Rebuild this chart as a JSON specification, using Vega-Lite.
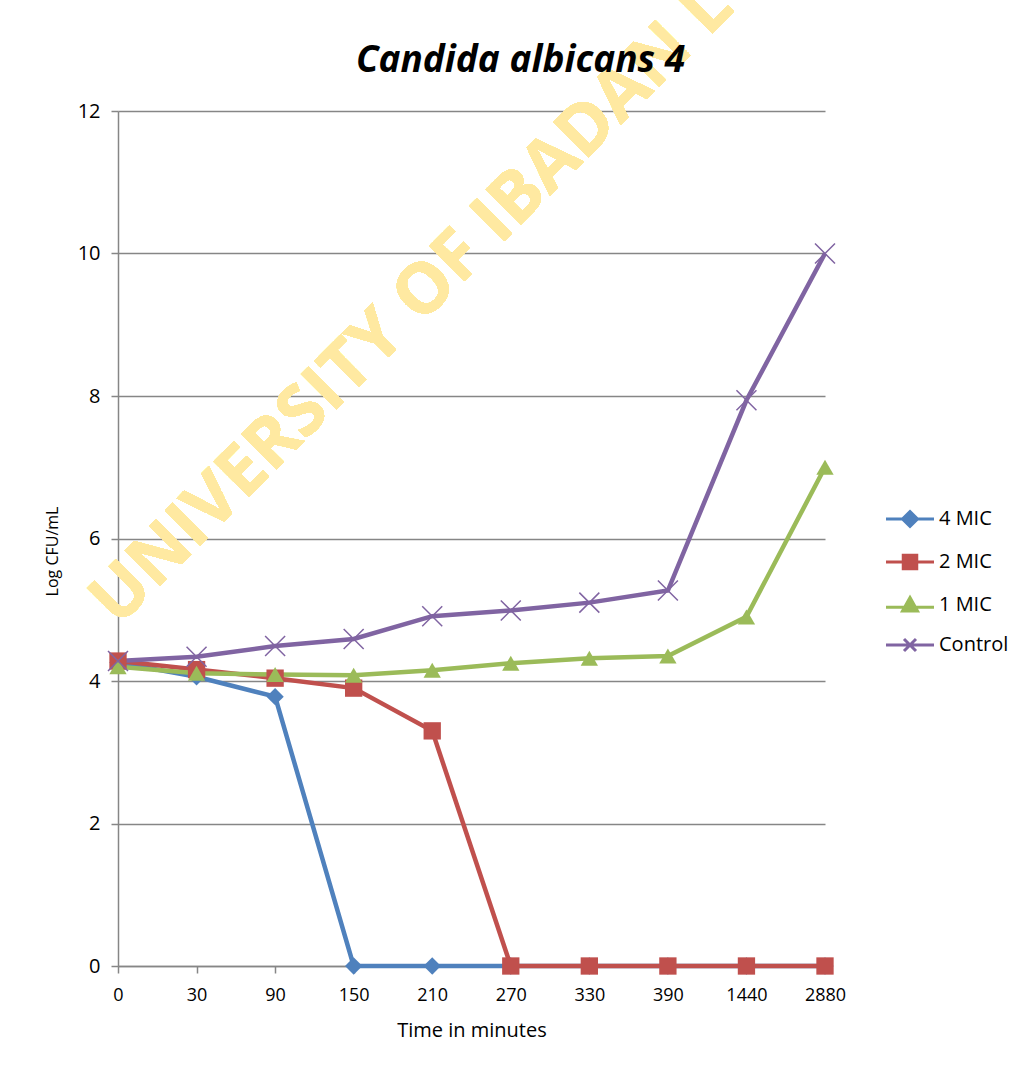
{
  "$schema": "https://vega.github.io/schema/vega-lite/v6.json",
  "autosize": "none",
  "width": 707,
  "height": 855,
  "padding": {"left": 118, "top": 111, "right": 189, "bottom": 100},
  "background": "white",
  "title": {
    "text": "Candida albicans 4",
    "font": "Open Sans",
    "fontSize": 37,
    "fontWeight": "bold",
    "fontStyle": "italic",
    "color": "#000000",
    "offset": 28,
    "dx": 49,
    "dy": 138
  },
  "config": {
    "view": {"stroke": null},
    "font": "Open Sans"
  },
  "data": {
    "values": [
      {"time": "0", "series": "4 MIC", "value": 4.26},
      {"time": "30", "series": "4 MIC", "value": 4.06},
      {"time": "90", "series": "4 MIC", "value": 3.78},
      {"time": "150", "series": "4 MIC", "value": 0},
      {"time": "210", "series": "4 MIC", "value": 0},
      {"time": "270", "series": "4 MIC", "value": 0},
      {"time": "330", "series": "4 MIC", "value": 0},
      {"time": "390", "series": "4 MIC", "value": 0},
      {"time": "1440", "series": "4 MIC", "value": 0},
      {"time": "2880", "series": "4 MIC", "value": 0},
      {"time": "0", "series": "2 MIC", "value": 4.28},
      {"time": "30", "series": "2 MIC", "value": 4.16},
      {"time": "90", "series": "2 MIC", "value": 4.04},
      {"time": "150", "series": "2 MIC", "value": 3.9},
      {"time": "210", "series": "2 MIC", "value": 3.3},
      {"time": "270", "series": "2 MIC", "value": 0},
      {"time": "330", "series": "2 MIC", "value": 0},
      {"time": "390", "series": "2 MIC", "value": 0},
      {"time": "1440", "series": "2 MIC", "value": 0},
      {"time": "2880", "series": "2 MIC", "value": 0},
      {"time": "0", "series": "1 MIC", "value": 4.2},
      {"time": "30", "series": "1 MIC", "value": 4.11},
      {"time": "90", "series": "1 MIC", "value": 4.09},
      {"time": "150", "series": "1 MIC", "value": 4.08},
      {"time": "210", "series": "1 MIC", "value": 4.15},
      {"time": "270", "series": "1 MIC", "value": 4.25},
      {"time": "330", "series": "1 MIC", "value": 4.32},
      {"time": "390", "series": "1 MIC", "value": 4.35},
      {"time": "1440", "series": "1 MIC", "value": 4.9},
      {"time": "2880", "series": "1 MIC", "value": 7.0},
      {"time": "0", "series": "Control", "value": 4.28},
      {"time": "30", "series": "Control", "value": 4.34},
      {"time": "90", "series": "Control", "value": 4.49},
      {"time": "150", "series": "Control", "value": 4.59},
      {"time": "210", "series": "Control", "value": 4.91},
      {"time": "270", "series": "Control", "value": 4.99},
      {"time": "330", "series": "Control", "value": 5.1},
      {"time": "390", "series": "Control", "value": 5.27},
      {"time": "1440", "series": "Control", "value": 7.94},
      {"time": "2880", "series": "Control", "value": 10.0}
    ]
  },
  "encoding": {
    "x": {
      "field": "time",
      "type": "ordinal",
      "sort": null,
      "scale": {"type": "point", "padding": 0},
      "axis": {
        "title": "Time in minutes",
        "labelAngle": 0,
        "labelFontSize": 18,
        "labelColor": "#000000",
        "labelPadding": 13,
        "titleFontSize": 20,
        "titleFontWeight": "normal",
        "titleColor": "#000000",
        "titlePadding": 16,
        "domainColor": "#868686",
        "domainWidth": 1.5,
        "tickColor": "#868686",
        "tickWidth": 1.5,
        "tickSize": 7,
        "grid": false
      }
    },
    "y": {
      "field": "value",
      "type": "quantitative",
      "scale": {"domain": [0, 12], "nice": false},
      "axis": {
        "title": "Log CFU/mL",
        "values": [0, 2, 4, 6, 8, 10, 12],
        "labelFontSize": 20,
        "labelColor": "#000000",
        "labelPadding": 11,
        "titleFontSize": 16,
        "titleFontWeight": "normal",
        "titleColor": "#000000",
        "titlePadding": 17,
        "titleY": 440,
        "domainColor": "#868686",
        "domainWidth": 1.5,
        "tickColor": "#868686",
        "tickWidth": 1.5,
        "tickSize": 7,
        "grid": true,
        "gridColor": "#868686",
        "gridWidth": 1.5
      }
    }
  },
  "layer": [
    {
      "mark": {
        "type": "text",
        "text": "UNIVERSITY OF IBADAN L",
        "font": "Open Sans",
        "fontSize": 70,
        "fontWeight": "bold",
        "angle": -45,
        "align": "left",
        "baseline": "alphabetic",
        "fill": "#FFE9A1",
        "opacity": 1
      },
      "encoding": {
        "x": {"datum": "0"},
        "y": {"datum": 4.75}
      }
    },
    {
      "mark": {"type": "line", "strokeWidth": 4.5},
      "encoding": {
        "color": {
          "field": "series",
          "type": "nominal",
          "sort": null,
          "scale": {
            "domain": ["4 MIC", "2 MIC", "1 MIC", "Control"],
            "range": ["#4F81BD", "#C0504D", "#9BBB59", "#8064A2"]
          },
          "legend": {
            "title": null,
            "orient": "none",
            "legendX": 782,
            "legendY": 398,
            "padding": 0,
            "labelFontSize": 20,
            "labelColor": "#000000",
            "labelOffset": 19,
            "rowPadding": 16,
            "symbolSize": 225,
            "symbolStrokeWidth": 3,
            "encode": {
              "symbols": {
                "update": {
                  "shape": {"signal": "datum.value == '4 MIC' ? 'M-3.2,0H3.2M0,-1L1,0L0,1L-1,0Z' : datum.value == '2 MIC' ? 'M-3.2,0H3.2M-0.9,-0.9H0.9V0.9H-0.9Z' : datum.value == '1 MIC' ? 'M-3.2,0.3H3.2M0,-1L1,0.8H-1Z' : 'M-3.2,0H3.2M-0.8,-0.8L0.8,0.8M-0.8,0.8L0.8,-0.8'"},
                  "fill": {"signal": "scale('color', datum.value)"},
                  "stroke": {"signal": "scale('color', datum.value)"},
                  "strokeWidth": {"value": 3},
                  "opacity": {"value": 1}
                }
              }
            }
          }
        }
      }
    },
    {
      "transform": [{"filter": "datum.series != 'Control'"}],
      "mark": {"type": "point", "filled": true, "size": 300, "opacity": 1},
      "encoding": {
        "color": {"field": "series", "type": "nominal", "sort": null, "legend": null},
        "shape": {
          "field": "series",
          "type": "nominal",
          "sort": null,
          "scale": {
            "domain": ["4 MIC", "2 MIC", "1 MIC"],
            "range": ["diamond", "square", "triangle-up"]
          },
          "legend": null
        }
      }
    },
    {
      "transform": [{"filter": "datum.series == 'Control'"}],
      "mark": {
        "type": "point",
        "shape": "M-1,-1L1,1M-1,1L1,-1",
        "filled": false,
        "size": 400,
        "strokeWidth": 1.5,
        "opacity": 1,
        "color": "#8064A2"
      },
      "encoding": {}
    }
  ]
}
